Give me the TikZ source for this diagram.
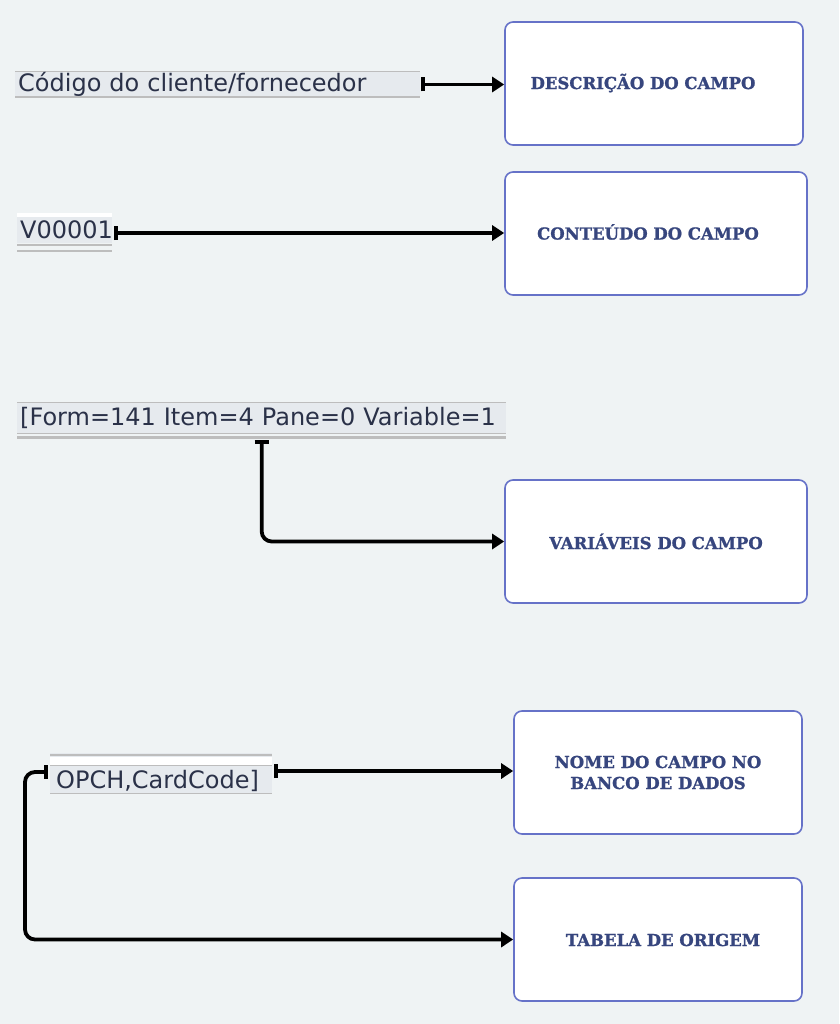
\documentclass[tikz,border=0pt]{standalone}
\usepackage{fontspec}
\setmainfont{DejaVu Sans}
\newfontfamily\boxfont{DejaVu Serif}[BoldFeatures={FakeBold=1.2}]
\usetikzlibrary{arrows.meta,calc}
\definecolor{bg}{HTML}{EFF3F4}
\definecolor{boxline}{HTML}{6672C8}
\definecolor{boxtext}{HTML}{37467E}
\definecolor{strip}{HTML}{E6EAEE}
\definecolor{stripline}{HTML}{BDBDBD}
\definecolor{fieldtext}{HTML}{2A3148}
\tikzset{
  infobox/.style={draw=boxline, line width=1.6pt, fill=white, rounded corners=8pt,
    inner sep=0pt, font=\boxfont\bfseries\fontsize{16.5}{21}\selectfont, text=boxtext, align=center},
  boxlabel/.style={text=boxtext, font=\boxfont\bfseries\fontsize{16.5}{21}\selectfont},
  field/.style={fill=none, inner ysep=0pt, inner xsep=3pt, anchor=west, text=fieldtext,
    font=\fontsize{24}{26}\selectfont, align=left, text height=18pt, text depth=4pt},
  conn/.style={line width=3.8pt, {Bar[width=14pt,line width=3.8pt]}-{Triangle[length=12pt,width=15pt]}},
  elbow/.style={conn, rounded corners=10pt},
}
\begin{document}
\begin{tikzpicture}[x=1pt,y=-1pt]
\fill[bg] (0,0) rectangle (839,1024);
\useasboundingbox (0,0) rectangle (839,1024);

% boxes
\node[infobox, minimum width=298pt, minimum height=123pt] (b1) at (654,83.5) {};
\node[boxlabel] (t1) at (643,83) {DESCRIÇÃO DO CAMPO};
\node[infobox, minimum width=302pt, minimum height=123pt] (b2) at (656,233.5) {};
\node[boxlabel] (t2) at (648,232) {CONTEÚDO DO CAMPO};
\node[infobox, minimum width=302pt, minimum height=123pt] (b3) at (656,541.5) {VARIÁVEIS DO CAMPO};
\node[infobox, minimum width=288pt, minimum height=123pt] (b4) at (658,772.5) {NOME DO CAMPO NO\\BANCO DE DADOS};
\node[infobox, minimum width=288pt, minimum height=123pt] (b5) at (658,939.5) {};
\node[boxlabel] (t5) at (663,940) {TABELA DE ORIGEM};

% strip 1
\fill[strip] (15,72) rectangle (420,97);
\draw[stripline, line width=1pt] (15,71.5) -- (420,71.5);
\draw[stripline, line width=2pt] (15,97.5) -- (420,97.5);
\node[field, text width=399pt, minimum height=25pt] (s1) at (15,84.5) {Código do cliente/fornecedor};

% strip 2
\fill[white] (17,213) rectangle (112,217);
\fill[strip] (17,217) rectangle (112,243);
\draw[stripline, line width=1.5pt] (17,245) -- (112,245);
\draw[stripline, line width=2.5pt] (17,251) -- (112,251);
\node[field, text width=92pt, minimum height=26pt, text height=20pt, text depth=2pt] (s2) at (17,230) {V00001};

% strip 3
\fill[strip] (17,403) rectangle (506,433);
\draw[stripline, line width=1pt] (17,402.5) -- (506,402.5);
\draw[stripline, line width=1pt] (17,433.5) -- (506,433.5);
\draw[stripline, line width=3pt] (17,437) -- (506,437);
\node[field, text width=483pt, minimum height=30pt] (s3) at (17,418) {[Form=141 Item=4 Pane=0 Variable=1};

% strip 4
\fill[strip] (50,753) rectangle (272,757);
\draw[stripline, line width=1.5pt] (50,755) -- (272,755);
\fill[white] (50,757) rectangle (272,765);
\fill[strip] (50,765) rectangle (272,793);
\draw[stripline, line width=1pt] (50,765) -- (272,765);
\draw[stripline, line width=1pt] (50,793) -- (272,793);
\node[field, inner xsep=6pt, text width=210pt, minimum height=28pt, text height=20pt, text depth=2pt] (s4) at (50,779) {OPCH,CardCode]};

% connectors
\coordinate (a1) at ([xshift=1pt]s1.east);
\draw[conn] (a1) -- (a1 -| b1.west);
\coordinate (a2) at ([xshift=-1pt,yshift=-3pt]s2.east);
\draw[conn] (a2) -- (a2 -| b2.west);
\draw[elbow] ([yshift=-7pt]s3.south) |- (b3.west);
\coordinate (s4r) at ([xshift=2pt,yshift=8pt]s4.east);
\coordinate (s4l) at ([xshift=-2pt,yshift=7pt]s4.west);
\draw[conn] (s4r) -- (s4r -| b4.west);
\draw[elbow] (s4l) -- ++(-23,0) |- (b5.west);
\end{tikzpicture}
\end{document}
